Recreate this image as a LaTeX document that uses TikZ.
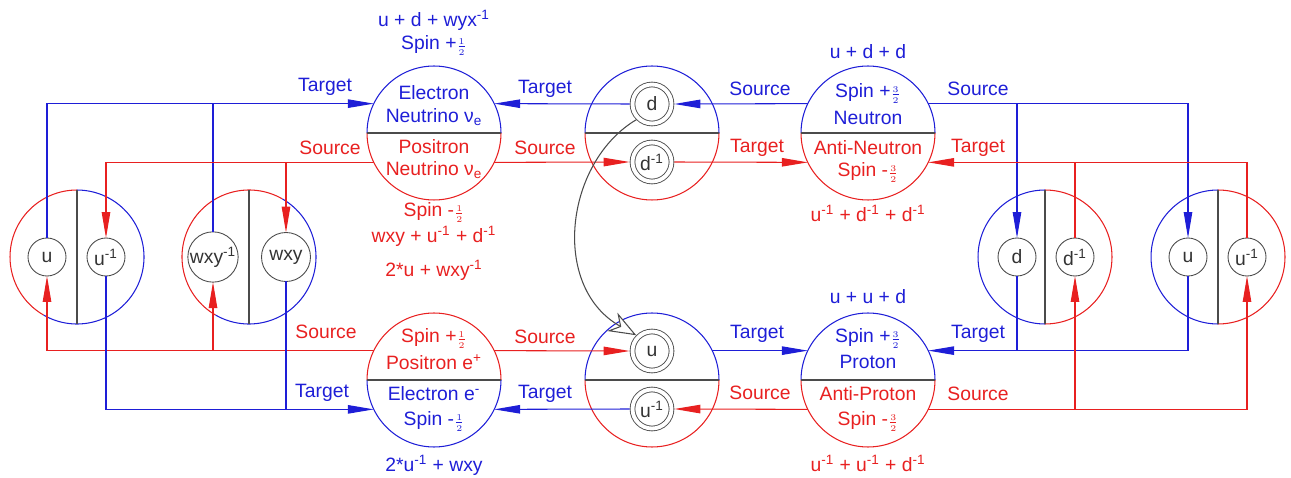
\documentclass[tikz,border=0pt]{standalone}
\usepackage{fontspec}
\setmainfont{Liberation Sans}
\usepackage{amsmath}
\usetikzlibrary{arrows.meta}

\definecolor{qblue}{RGB}{30,30,215}
\definecolor{qred}{RGB}{232,32,32}
\definecolor{qgray}{RGB}{75,75,75}

\begin{document}
\begin{tikzpicture}[
    x=0.02cm, y=0.02cm,
    font=\fontsize{11}{12}\selectfont,
    big/.style={circle, minimum size=2.68cm, inner sep=0pt, outer sep=0pt},
    qk/.style={circle, draw=qgray, line width=0.5pt, minimum size=0.76cm,
               inner sep=0pt, outer sep=0pt, text=black!80},
    qkw/.style={qk, minimum size=0.98cm},
    dbl/.style={circle, draw=qgray, double, double distance=2.2pt,
                line width=0.5pt, minimum size=0.78cm, inner sep=0pt,
                outer sep=1.6pt, text=black!80},
    bt/.style={text=qblue, inner sep=0pt},
    rt/.style={text=qred, inner sep=0pt},
    bl/.style={draw=qblue, line width=0.6pt},
    rl/.style={draw=qred, line width=0.6pt},
    tip/.style={-{Triangle[length=0.52cm, width=0.17cm]}},
    div/.style={draw=qgray, line width=0.6pt},
    wc/.style={draw=qgray, line width=0.6pt,
               -{Stealth[open, length=0.55cm, width=0.42cm, fill=white]}},
]
    \useasboundingbox (0,0) rectangle (1291,477);

    % column centers
    \def\colE{434}
    \def\colM{652}
    \def\colN{868}
    % row y-coordinates
    \def\rowT{344}
    \def\rowB{97}
    \def\rowS{220}

    % big circles
    \node[big] (enu) at (\colE, \rowT) {};
    \node[big] (dm)  at (\colM, \rowT) {};
    \node[big] (neu) at (\colN, \rowT) {};
    \node[big] (eel) at (\colE, \rowB) {};
    \node[big] (um)  at (\colM, \rowB) {};
    \node[big] (pro) at (\colN, \rowB) {};
    \foreach \n in {enu, dm, neu, um, pro} {
        \draw[bl] (\n.east) arc[start angle=0, end angle=180, radius=1.34cm];
        \draw[rl] (\n.west) arc[start angle=180, end angle=360, radius=1.34cm];
        \draw[div] (\n.west) -- (\n.east);
    }
    \draw[rl] (eel.east) arc[start angle=0, end angle=180, radius=1.34cm];
    \draw[bl] (eel.west) arc[start angle=180, end angle=360, radius=1.34cm];
    \draw[div] (eel.west) -- (eel.east);

    % side circles
    \node[big] (ga) at (77, \rowS) {};
    \node[big] (gb) at (249, \rowS) {};
    \node[big] (gc) at (1045, \rowS) {};
    \node[big] (gd) at (1218, \rowS) {};
    \draw[rl] (ga.90) arc[start angle=90, end angle=240, radius=1.34cm];
    \draw[bl] (ga.240) arc[start angle=240, end angle=450, radius=1.34cm];
    \draw[rl] (gb.60) arc[start angle=60, end angle=240, radius=1.34cm];
    \draw[bl] (gb.240) arc[start angle=240, end angle=420, radius=1.34cm];
    \foreach \n in {gc, gd} {
        \draw[bl] (\n.90) arc[start angle=90, end angle=270, radius=1.34cm];
        \draw[rl] (\n.270) arc[start angle=270, end angle=450, radius=1.34cm];
    }
    \foreach \n in {ga, gb, gc, gd}
        \draw[div] (\n.north) -- (\n.south);

    % quarks
    \node[qk]  (su)   at (47, \rowS)   {u};
    \node[qk]  (sui)  at (106, \rowS)  {u\textsuperscript{-1}};
    \node[qkw] (swi)  at (213, \rowS)  {wxy\textsuperscript{-1}};
    \node[qkw] (swy)  at (286, \rowS)  {wxy};
    \node[qk]  (sd)   at (1017, \rowS) {d};
    \node[qk]  (sdi)  at (1075, \rowS) {d\textsuperscript{-1}};
    \node[qk]  (su2)  at (1188, \rowS) {u};
    \node[qk]  (sui2) at (1247, \rowS) {u\textsuperscript{-1}};

    \node[dbl] (dd)  at (\colM, 373) {d};
    \node[dbl] (ddi) at (\colM, 315) {d\textsuperscript{-1}};
    \node[dbl] (uu)  at (\colM, 126) {u};
    \node[dbl] (uui) at (\colM, 68)  {u\textsuperscript{-1}};

    % Electron / Positron neutrino
    \node[bt] (enu-q) at (\colE, 457) {u + d + wyx\textsuperscript{-1}};
    \node[bt] (enu-s) at (\colE, 432) {Spin +\smash{$\scriptstyle\frac{1}{2}$}};
    \node[bt] (enu-a) at (\colE, 384) {Electron};
    \node[bt] (enu-b) at (\colE, 360) {Neutrino ν\textsubscript{e}};
    \node[rt] (enu-c) at (\colE, 330) {Positron};
    \node[rt] (enu-d) at (\colE, 307) {Neutrino ν\textsubscript{e}};
    \node[rt] (enu-t) at (\colE, 265) {Spin -\smash{$\scriptstyle\frac{1}{2}$}};
    \node[rt] (enu-r) at (\colE, 241)
        {wxy + u\textsuperscript{-1} + d\textsuperscript{-1}};

    % Positron / Electron
    \node[rt] (eel-q) at (\colE, 207) {2*u + wxy\textsuperscript{-1}};
    \node[rt] (eel-a) at (\colE, 139) {Spin +\smash{$\scriptstyle\frac{1}{2}$}};
    \node[rt] (eel-b) at (\colE, 115) {Positron e\textsuperscript{+}};
    \node[bt] (eel-c) at (\colE, 83)  {Electron e\textsuperscript{-}};
    \node[bt] (eel-d) at (\colE, 56)  {Spin -\smash{$\scriptstyle\frac{1}{2}$}};
    \node[bt] (eel-r) at (\colE, 12)  {2*u\textsuperscript{-1} + wxy};

    % Neutron / Anti-Neutron
    \node[bt] (neu-q) at (\colN, 425) {u + d + d};
    \node[bt] (neu-a) at (\colN, 384) {Spin +\smash{$\scriptstyle\frac{3}{2}$}};
    \node[bt] (neu-b) at (\colN, 359) {Neutron};
    \node[rt] (neu-c) at (\colN, 329) {Anti-Neutron};
    \node[rt] (neu-d) at (\colN, 305) {Spin -\smash{$\scriptstyle\frac{3}{2}$}};
    \node[rt] (neu-r) at (\colN, 264)
        {u\textsuperscript{-1} + d\textsuperscript{-1} + d\textsuperscript{-1}};

    % Proton / Anti-Proton
    \node[bt] (pro-q) at (\colN, 180) {u + u + d};
    \node[bt] (pro-a) at (\colN, 139) {Spin +\smash{$\scriptstyle\frac{3}{2}$}};
    \node[bt] (pro-b) at (\colN, 115) {Proton};
    \node[rt] (pro-c) at (\colN, 83)  {Anti-Proton};
    \node[rt] (pro-d) at (\colN, 56)  {Spin -\smash{$\scriptstyle\frac{3}{2}$}};
    \node[rt] (pro-r) at (\colN, 14)
        {u\textsuperscript{-1} + u\textsuperscript{-1} + d\textsuperscript{-1}};

    % Source / Target labels
    \node[bt] (lb1) at (325, 390) {Target};
    \node[rt] (lr1) at (330, 329) {Source};
    \node[bt] (lb2) at (545, 388) {Target};
    \node[rt] (lr2) at (545, 329) {Source};
    \node[bt] (lb3) at (760, 388) {Source};
    \node[rt] (lr3) at (757, 329) {Target};
    \node[bt] (lb4) at (978, 388) {Source};
    \node[rt] (lr4) at (978, 329) {Target};
    \node[rt] (lr5) at (326, 145) {Source};
    \node[bt] (lb5) at (322, 84)  {Target};
    \node[rt] (lr6) at (545, 140) {Source};
    \node[bt] (lb6) at (545, 83)  {Target};
    \node[bt] (lb7) at (757, 143) {Target};
    \node[rt] (lr7) at (760, 84)  {Source};
    \node[bt] (lb8) at (978, 143) {Target};
    \node[rt] (lr8) at (978, 83)  {Source};

    % middle links
    \draw[bl, tip] (neu.154) -- (dd.east);
    \draw[bl, tip] (dd.west) -- (enu.26);
    \draw[rl, tip] (enu.334) -- (ddi.west);
    \draw[rl, tip] (ddi.east) -- (neu.206);
    \draw[rl, tip] (eel.26) -- (uu.west);
    \draw[bl, tip] (um.26) -- (pro.154);
    \draw[rl, tip] (pro.206) -- (uui.east);
    \draw[bl, tip] (uui.west) -- (eel.334);

    % left links
    \draw[bl, tip] (su.north) |- (enu.154);
    \draw[bl] (swi.north) -- (swi.north |- enu.154);
    \draw[rl, tip] (enu.206) -| (sui.north);
    \draw[rl, tip] (swy.north |- enu.206) -- (swy.north);
    \draw[rl, tip] (eel.154) -| (su.south);
    \draw[rl, tip] (swi.south |- eel.154) -- (swi.south);
    \draw[bl, tip] (sui.south) |- (eel.206);
    \draw[bl] (swy.south) -- (swy.south |- eel.206);

    % right links
    \draw[bl, tip] (neu.26) -| (su2.north);
    \draw[bl, tip] (sd.north |- neu.26) -- (sd.north);
    \draw[rl, tip] (sui2.north) |- (neu.334);
    \draw[rl] (sdi.north) -- (sdi.north |- neu.334);
    \draw[bl, tip] (su2.south) |- (pro.26);
    \draw[bl] (sd.south) -- (sd.south |- pro.26);
    \draw[rl, tip] (pro.334) -| (sui2.south);
    \draw[rl, tip] (sdi.south |- pro.334) -- (sdi.south);

    % d turns into u
    \draw[wc] (dd.225) .. controls (565,315) and (550,190) .. (uu.135);
\end{tikzpicture}
\end{document}
